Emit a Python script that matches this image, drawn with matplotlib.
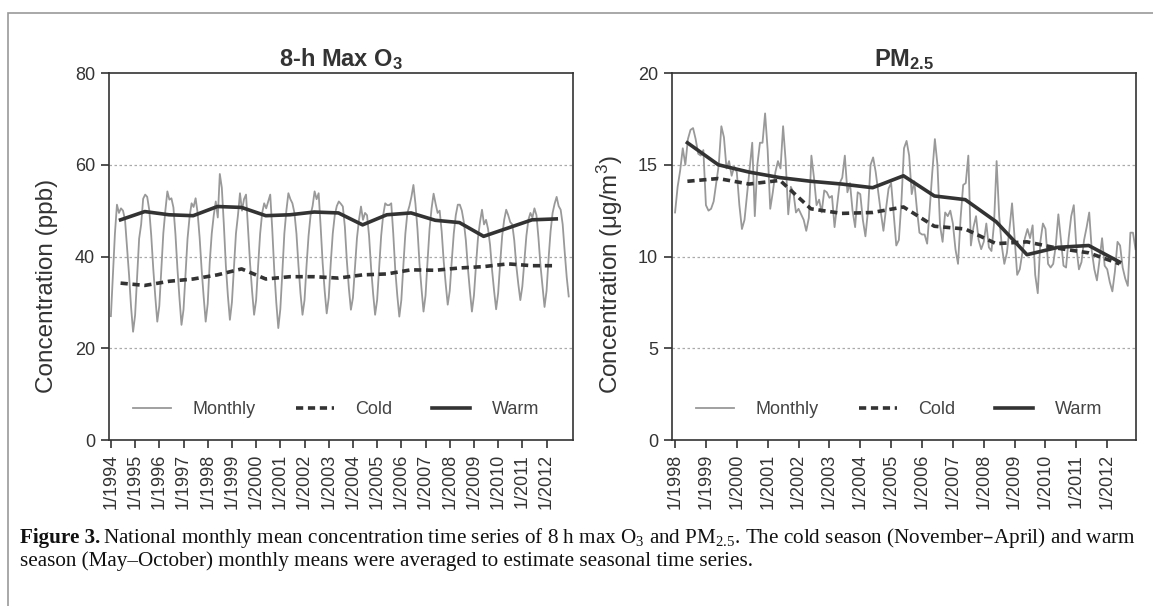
import numpy as np
import matplotlib.pyplot as plt
from matplotlib.patches import Rectangle

plt.rcParams['font.family'] = ['Liberation Sans', 'DejaVu Sans']
plt.rcParams['mathtext.default'] = 'regular'

# --- data ---
O3_YEARS = list(range(1994, 2013))
O3_MONTHLY = [
    27.0, 36.0, 45.0, 51.3, 49.5, 50.5, 50.0, 48.0, 42.0, 36.0, 29.0, 23.6,  # 1994
    27.2, 35.6, 43.9, 47.0, 52.6, 53.5, 53.0, 50.2, 44.6, 37.4, 31.3, 25.8,  # 1995
    29.2, 37.2, 45.1, 50.0, 54.2, 52.4, 52.7, 50.7, 44.9, 37.3, 30.9, 25.1,  # 1996
    28.4, 36.1, 43.9, 48.6, 51.6, 50.8, 52.7, 49.5, 44.1, 37.1, 31.2, 25.8,  # 1997
    29.7, 38.7, 45.0, 49.0, 52.0, 48.5, 58.0, 55.0, 47.0, 38.0, 31.5, 26.2,  # 1998
    30.0, 37.5, 45.0, 49.0, 53.8, 50.0, 52.5, 53.5, 46.0, 38.5, 32.5, 27.3,  # 1999
    30.5, 38.0, 45.0, 49.5, 51.6, 50.5, 52.0, 53.5, 46.0, 37.0, 30.0, 24.4,  # 2000
    28.5, 36.5, 45.0, 50.0, 53.8, 52.5, 51.6, 49.5, 45.0, 38.0, 32.0, 27.3,  # 2001
    30.5, 38.0, 44.5, 49.0, 51.0, 54.2, 52.5, 53.8, 46.5, 38.5, 32.5, 27.6,  # 2002
    31.0, 38.5, 45.0, 49.0, 51.0, 52.0, 51.5, 50.9, 46.5, 39.0, 33.0, 28.4,  # 2003
    31.0, 37.5, 44.0, 48.0, 50.9, 48.0, 49.5, 49.0, 44.5, 37.5, 32.0, 27.3,  # 2004
    30.5, 37.5, 44.5, 49.0, 51.6, 51.2, 51.2, 51.6, 45.0, 37.0, 31.5, 26.9,  # 2005
    30.5, 38.0, 45.0, 49.5, 51.0, 53.0, 55.6, 51.5, 46.0, 38.5, 33.0, 28.0,  # 2006
    31.5, 39.0, 46.0, 50.5, 53.7, 51.5, 49.5, 50.0, 45.5, 39.0, 34.0, 29.5,  # 2007
    32.5, 39.0, 45.0, 49.0, 51.3, 51.3, 50.0, 47.5, 43.5, 37.5, 32.5, 28.0,  # 2008
    31.5, 38.0, 44.0, 47.5, 50.2, 47.0, 48.0, 46.0, 42.5, 37.0, 32.5, 28.5,  # 2009
    32.0, 38.5, 44.5, 48.0, 50.2, 49.0, 47.5, 47.0, 43.5, 38.0, 34.0, 30.5,  # 2010
    33.5, 39.0, 44.5, 48.0, 49.5, 48.5, 50.5, 49.0, 44.0, 38.0, 33.5, 29.0,  # 2011
    32.5, 39.5, 45.5, 49.5, 51.5, 53.0, 51.0, 50.2, 47.0, 41.0, 35.5, 31.3,  # 2012
]
O3_COLD = [34.2, 33.7, 34.6, 35.1, 36.0, 37.3, 35.1, 35.6, 35.6, 35.3,
           36.0, 36.2, 37.1, 37.0, 37.5, 37.8, 38.4, 38.0, 38.0]
O3_WARM = [48.0, 49.8, 49.1, 48.9, 50.9, 50.7, 48.9, 49.1, 49.7, 49.5,
           46.9, 49.1, 49.5, 47.9, 47.4, 44.4, 46.2, 48.0, 48.2]

PM_YEARS = list(range(1998, 2013))
PM_MONTHLY = [
    12.4, 13.8, 14.7, 15.9, 15.0, 16.4, 16.9, 17.0, 16.4, 15.6, 15.5, 15.8,  # 1998
    12.8, 12.5, 12.6, 13.0, 14.0, 15.0, 17.1, 16.5, 14.8, 15.2, 14.4, 14.9,  # 1999
    14.6, 12.8, 11.5, 12.0, 13.4, 14.8, 16.2, 12.2, 15.0, 16.2, 16.2, 17.8,  # 2000
    15.8, 12.6, 13.5, 14.6, 15.2, 14.8, 17.1, 15.2, 12.3, 13.8, 13.5, 12.4,  # 2001
    12.6, 12.3, 12.0, 11.4, 12.1, 15.5, 14.3, 12.8, 13.1, 12.4, 13.6, 13.5,  # 2002
    13.2, 13.3, 11.6, 12.8, 14.0, 14.3, 15.5, 13.5, 14.0, 12.5, 11.6, 13.5,  # 2003
    13.4, 12.0, 11.1, 12.5, 15.0, 15.4, 14.6, 13.5, 12.4, 11.4, 12.6, 13.7,  # 2004
    14.0, 12.3, 10.6, 10.9, 13.0, 15.9, 16.3, 15.5, 13.4, 14.1, 12.6, 11.3,  # 2005
    11.2, 11.2, 10.7, 12.6, 14.6, 16.4, 15.0, 11.7, 10.8, 12.4, 12.2, 12.5,  # 2006
    11.8, 10.4, 9.6, 12.1, 13.9, 14.0, 15.5, 10.6, 11.6, 12.2, 10.9, 10.4,   # 2007
    10.8, 11.8, 10.5, 10.3, 11.8, 15.2, 12.2, 10.6, 9.6, 10.2, 11.5, 12.9,   # 2008
    11.0, 9.0, 9.3, 10.2, 11.0, 11.5, 11.0, 11.7, 9.0, 8.0, 10.8, 11.8,      # 2009
    11.5, 9.6, 9.4, 9.6, 10.6, 12.3, 10.9, 9.5, 9.4, 11.0, 12.2, 12.8,       # 2010
    10.5, 9.3, 9.7, 10.9, 11.6, 12.4, 10.3, 9.3, 8.7, 9.8, 11.0, 9.5,        # 2011
    9.3, 8.6, 8.1, 9.2, 10.8, 10.6, 9.4, 8.8, 8.4, 11.3, 11.3, 10.4,         # 2012
]
PM_COLD = [14.1, 14.25, 13.95, 14.15, 12.6, 12.35, 12.4, 12.7, 11.65, 11.5,
           10.7, 10.8, 10.45, 10.2, 9.6]
PM_WARM = [16.2, 15.0, 14.6, 14.3, 14.1, 13.95, 13.75, 14.4, 13.3, 13.1,
           11.9, 10.1, 10.5, 10.6, 9.7]

DARK = '#333333'


def draw_panel(ax, years, monthly, cold, warm, xlim, ylim, yticks, title, ylabel,
               label_pos):
    t = years[0] + np.arange(len(monthly)) / 12.0
    ys = np.array(years) + 0.4
    ax.plot(t, monthly, color='#999999', lw=1.3, label='Monthly', zorder=2)
    ax.plot(ys, cold, color=DARK, lw=2.6, ls=(0, (2.0, 1.3)), label='Cold', zorder=3)
    ax.plot(ys, warm, color=DARK, lw=2.6, label='Warm', zorder=3)
    for y in yticks[1:-1]:
        ax.axhline(y, color='#aaaaaa', lw=0.9, ls=(0, (2, 2)), zorder=0)
    ax.set_xlim(*xlim)
    ax.set_ylim(*ylim)
    ax.set_yticks(yticks)
    ax.set_xticks(years)
    ax.set_xticklabels([f'1/{y}' for y in years], rotation=90)
    ax.tick_params(direction='out', length=6, width=1.2, colors=DARK,
                   labelsize=13, pad=4)
    for s in ax.spines.values():
        s.set_color(DARK)
        s.set_linewidth(1.2)
    ax.set_title(title, fontsize=17, fontweight='bold', color=DARK, pad=5)
    ax.set_ylabel(ylabel, fontsize=17.5, color=DARK)
    ax.yaxis.set_label_coords(*label_pos)
    leg = ax.legend(loc='center', bbox_to_anchor=(0.49, 0.083), ncol=3,
                    frameon=False, fontsize=13, handlelength=2.1,
                    handletextpad=1.2, columnspacing=2.2)
    for txt in leg.get_texts():
        txt.set_color('#444444')


fig = plt.figure(figsize=(11.53, 6.06), dpi=100)
ax1 = fig.add_axes([0.0945, 0.2739, 0.4024, 0.6056])
ax2 = fig.add_axes([0.5828, 0.2739, 0.4024, 0.6056])

draw_panel(ax1, O3_YEARS, O3_MONTHLY, O3_COLD, O3_WARM, (1993.92, 2013.09),
           (0, 80), [0, 20, 40, 60, 80], '8-h Max O$_3$', 'Concentration (ppb)',
           (-0.11, 0.42))
draw_panel(ax2, PM_YEARS, PM_MONTHLY, PM_COLD, PM_WARM, (1997.9, 2012.93),
           (0, 20), [0, 5, 10, 15, 20], 'PM$_{2.5}$',
           'Concentration (\u03bcg/m$^3$)', (-0.102, 0.45))

# outer frame around figure + caption
fig.patches.append(Rectangle((0.007, -0.2), 1.2, 0.2 + 0.979, transform=fig.transFigure,
                             fill=False, edgecolor='#999999', lw=1.2))

# caption
serif = 'Liberation Serif'
cap_fs = 15.2
bold = fig.text(0.017, 0.112, 'Figure 3.', fontfamily=serif, fontweight='bold',
                fontsize=cap_fs, va='center', ha='left', color='#111111')
fig.canvas.draw()
bb = bold.get_window_extent(fig.canvas.get_renderer())
x_next = bb.x1 / fig.bbox.width + 0.003
fig.text(x_next, 0.112,
         'National monthly mean concentration time series of 8 h max O$_3$ and PM$_{2.5}$. '
         'The cold season (November\u2013April) and warm',
         fontfamily=serif, fontsize=cap_fs, va='center', ha='left', color='#111111')
fig.text(0.017, 0.074,
         'season (May\u2013October) monthly means were averaged to estimate seasonal time series.',
         fontfamily=serif, fontsize=cap_fs, va='center', ha='left', color='#111111')

fig.savefig('out.png', dpi=100)
